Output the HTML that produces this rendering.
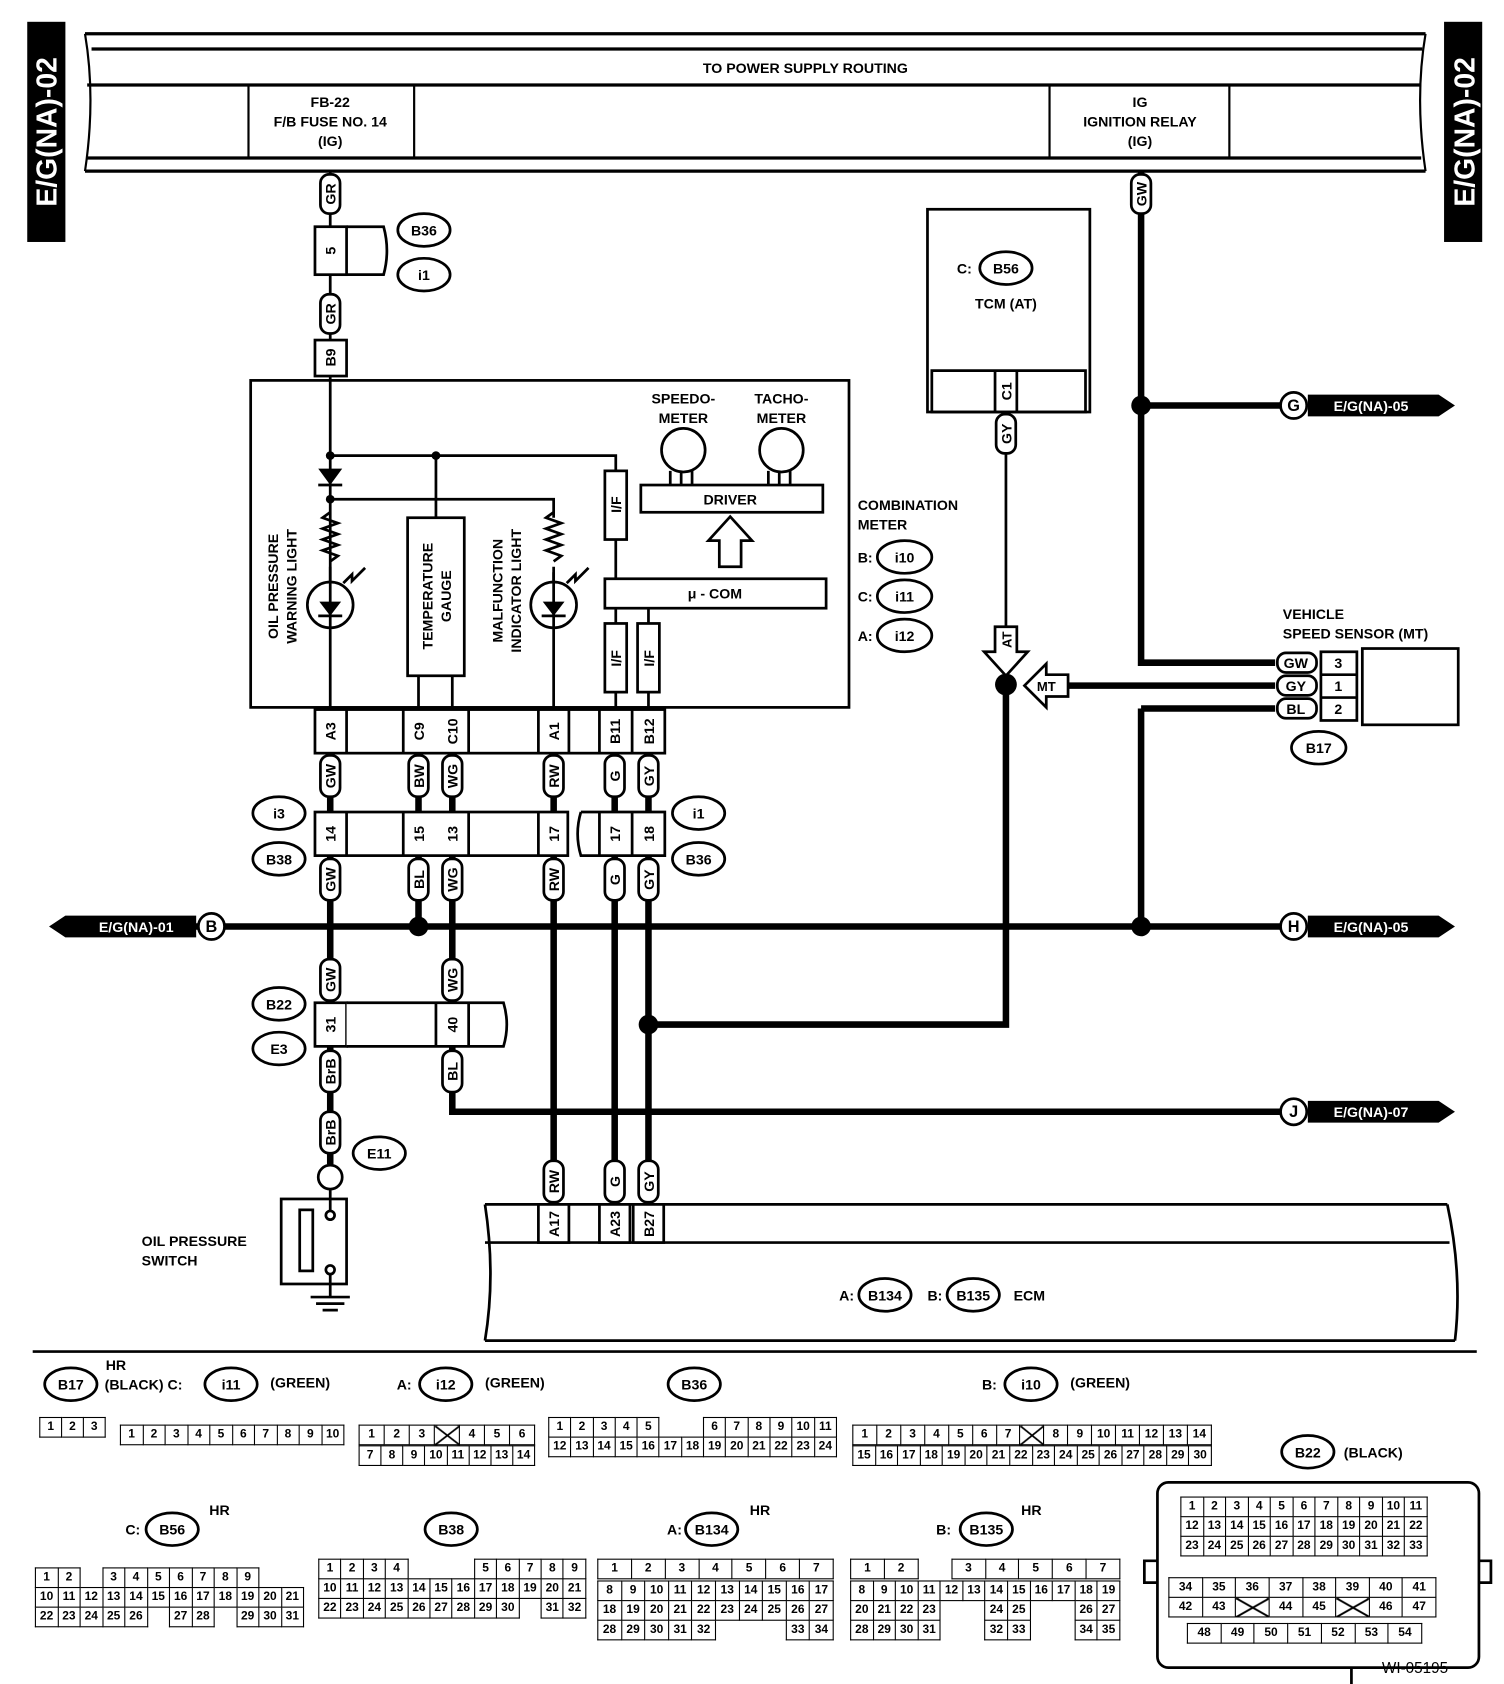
<!DOCTYPE html>
<html><head><meta charset="utf-8"><style>
html,body{margin:0;padding:0;background:#fff;width:1504px;height:1684px;overflow:hidden}
#w{position:absolute;left:0;top:0;width:1380px;height:1545px;transform:scale(1.08986,1.08996);transform-origin:0 0}
svg{position:absolute;left:0;top:0}
svg text{font-family:"Liberation Sans",sans-serif;font-weight:bold;font-size:13px;fill:#000}
.t{position:absolute;border-collapse:collapse;table-layout:fixed;font:bold 11px "Liberation Sans Narrow","Liberation Sans",sans-serif}
.t td{border:1.5px solid #000;text-align:center;padding:0;height:17px;line-height:17px}
.t td.n{border:none}
.t td.x{background:linear-gradient(to top right,transparent 46%,#000 48%,#000 52%,transparent 54%),linear-gradient(to top left,transparent 46%,#000 48%,#000 52%,transparent 54%)}
</style></head><body><div id="w">
<svg width="1380" height="1545" viewBox="0 0 1380 1545">
<!-- thick wires -->
<g stroke="#000" fill="none" stroke-width="6">
<path d="M1047 157 V608 H1170 M1047 372 H1175 M1047 650 H1170 M1047 650 V850"/>
<path d="M980 629 H1170"/>
<path d="M923 628 V940 H595"/>
<path d="M60 850 H1175"/>
<path d="M303 691 V920 M384 691 V850 M415 691 V920 M508 691 V1105 M564 691 V1105 M595 691 V1105 M303 960 V1068 M415 960 V1020 H1175"/>
</g>
<g stroke="#000" fill="none" stroke-width="3">
<path d="M78 31 H1308 M84 45 H1305 M80 78 H1304 M80 145 H1304 M78 157 H1308"/>
<path d="M78 31 Q88 90 78 157 M1308 31 Q1298 90 1308 157" stroke-width="2"/>
<path d="M228 78 V145 M380 78 V145 M963 78 V145 M1128 78 V145" stroke-width="2"/>
</g>
<rect x="25" y="20" width="35" height="202" fill="#000"/>
<rect x="1325" y="20" width="35" height="202" fill="#000"/>
<text transform="translate(52,121) rotate(-90)" text-anchor="middle" style="fill:#fff;font-size:26px">E/G(NA)-02</text>
<text transform="translate(1353,121) rotate(-90)" text-anchor="middle" style="fill:#fff;font-size:26px">E/G(NA)-02</text>
<text x="739" y="67" text-anchor="middle">TO POWER SUPPLY ROUTING</text>
<text x="303" y="98" text-anchor="middle">FB-22</text><text x="303" y="116" text-anchor="middle">F/B FUSE NO. 14</text><text x="303" y="134" text-anchor="middle">(IG)</text>
<text x="1046" y="98" text-anchor="middle">IG</text><text x="1046" y="116" text-anchor="middle">IGNITION RELAY</text><text x="1046" y="134" text-anchor="middle">(IG)</text>

<g stroke="#000" fill="none" stroke-width="2.5">
<path d="M303 157 V650"/>
<path d="M303 418 H565 V432 M565 495 V531 M400 418 V475 M303 458 H508 V475 M565 558 V572 M595 558 V572 M565 635 V650 M595 635 V650 M384 620 V650 M415 620 V650 M508 525 V650"/>
<path d="M303 520 V533 M508 520 V533"/>
<rect x="230" y="349" width="549" height="300"/>
<rect x="374" y="475" width="52" height="145"/>
<rect x="555" y="432" width="20" height="63"/>
<rect x="555" y="572" width="20" height="63"/><rect x="585" y="572" width="20" height="63"/>
<rect x="555" y="531" width="203" height="27"/>
<rect x="588" y="445" width="167" height="25"/>
<circle cx="627" cy="413" r="20"/><circle cx="717" cy="413" r="20"/>
<path d="M615 432 V445 M625 432 V445 M635 432 V445 M705 432 V445 M715 432 V445 M725 432 V445"/>
<path d="M670 474 L690 496 H680 V520 H660 V496 H650 Z"/>
<circle cx="303" cy="555" r="21"/><circle cx="508" cy="555" r="21"/>
<path d="M303 470 l-7 5 l14 5 l-14 5 l14 5 l-14 5 l14 5 l-14 5 l14 5 l-7 5"/>
<path d="M508 470 l-7 5 l14 5 l-14 5 l14 5 l-14 5 l14 5 l-14 5 l14 5 l-7 5"/>
<path d="M292 445 H314 M292 565 H314 M497 565 H519" />
<path d="M315 535 l8 -8 v6 l12 -12 M520 535 l8 -8 v6 l12 -12"/>
<rect x="851" y="192" width="149" height="186"/>
<path d="M855 340 H996 V378 H855 Z M913 340 V378 M933 340 V378"/>
<path d="M923 378 V575"/>
<rect x="289" y="208" width="29" height="44" fill="#fff"/>
<path d="M318 208 H352 Q358 230 352 252 H318"/>
<rect x="289" y="312" width="29" height="33" fill="#fff"/>
<rect x="289" y="651" width="321" height="40" fill="#fff"/>
<path d="M318 651 V691 M370 651 V691 M430 651 V691 M494 651 V691 M522 651 V691 M550 651 V691 M580 651 V691"/>
<rect x="289" y="745" width="232" height="40" fill="#fff"/>
<path d="M318 745 V785 M370 745 V785 M430 745 V785 M494 745 V785"/>
<path d="M533 745 H610 V785 H533 Q527 765 533 745" fill="#fff"/>
<path d="M550 745 V785 M580 745 V785"/>
<rect x="289" y="920" width="29" height="40" fill="#fff"/>
<path d="M318 920 H462 Q468 940 462 960 H318" fill="#fff"/>
<path d="M400 920 V960 M430 920 V960"/>
<circle cx="303" cy="1080" r="11"/>
<rect x="258" y="1100" width="60" height="78"/>
<rect x="275" y="1110" width="12" height="56"/>
<circle cx="303" cy="1115" r="4"/><circle cx="303" cy="1165" r="4"/>
<path d="M303 1091 V1111 M303 1169 V1190 M285 1190 H321 M290 1196 H316 M296 1202 H310"/>
<path d="M445 1105 H1328 M445 1140 H1330 M445 1230 H1335 M445 1105 Q455 1170 445 1230 M1328 1105 Q1342 1170 1335 1230"/>
<rect x="494" y="1105" width="28" height="35" fill="#fff"/><rect x="550" y="1105" width="28" height="35" fill="#fff"/><rect x="581" y="1105" width="28" height="35" fill="#fff"/>
<rect x="1250" y="595" width="88" height="70"/>
<rect x="1212" y="598" width="33" height="63"/><path d="M1212 619 H1245 M1212 640 H1245"/>
<ellipse cx="389" cy="211" rx="24" ry="15"/><ellipse cx="389" cy="252" rx="24" ry="15"/>
<ellipse cx="923" cy="246" rx="24" ry="15"/>
<ellipse cx="830" cy="511" rx="25" ry="15"/><ellipse cx="830" cy="547" rx="25" ry="15"/><ellipse cx="830" cy="583" rx="25" ry="15"/>
<ellipse cx="256" cy="746" rx="24" ry="15"/><ellipse cx="256" cy="788" rx="24" ry="15"/>
<ellipse cx="641" cy="746" rx="24" ry="15"/><ellipse cx="641" cy="788" rx="24" ry="15"/>
<ellipse cx="256" cy="921" rx="24" ry="15"/><ellipse cx="256" cy="962" rx="24" ry="15"/>
<ellipse cx="348" cy="1058" rx="24" ry="15"/>
<ellipse cx="1210" cy="686" rx="25" ry="15"/>
<ellipse cx="812" cy="1188" rx="24" ry="15"/><ellipse cx="893" cy="1188" rx="24" ry="15"/>
<path d="M30 1240 H1355"/>
</g>
<g fill="#000">
<circle cx="303" cy="418" r="4"/><circle cx="303" cy="458" r="4"/><circle cx="400" cy="418" r="4"/>
<path d="M292 430 H314 L303 445 Z"/><path d="M293 552 H313 L303 565 Z"/><path d="M498 552 H518 L508 565 Z"/>
<circle cx="1047" cy="372" r="9"/><circle cx="1047" cy="850" r="9"/><circle cx="384" cy="850" r="9"/>
<circle cx="595" cy="940" r="9"/><circle cx="923" cy="628" r="10"/>
<path d="M1200 362 H1320 L1335 372 L1320 382 H1200 Z"/>
<path d="M1200 840 H1320 L1335 850 L1320 860 H1200 Z"/>
<path d="M1200 1010 H1320 L1335 1020 L1320 1030 H1200 Z"/>
<path d="M180 840 H60 L45 850 L60 860 H180 Z"/>
</g>
<g stroke="#000" stroke-width="2.5" fill="#fff">
<circle cx="1187" cy="372" r="12"/><circle cx="1187" cy="850" r="12"/><circle cx="1187" cy="1020" r="12"/><circle cx="194" cy="850" r="12"/>
<path d="M913 575 H933 V598 H943 L923 620 L903 598 H913 Z"/>
<path d="M980 619 V639 H960 V649 L940 629 L960 609 V619 Z"/>
<rect x="294" y="160" width="18" height="36" rx="8"/>
<rect x="294" y="270" width="18" height="36" rx="8"/>
<rect x="1038" y="160" width="18" height="36" rx="8"/>
<rect x="914" y="380" width="18" height="36" rx="8"/>
<rect x="294" y="693" width="18" height="38" rx="8"/><rect x="375" y="693" width="18" height="38" rx="8"/><rect x="406" y="693" width="18" height="38" rx="8"/><rect x="499" y="693" width="18" height="38" rx="8"/><rect x="555" y="693" width="18" height="38" rx="8"/><rect x="586" y="693" width="18" height="38" rx="8"/>
<rect x="294" y="788" width="18" height="38" rx="8"/><rect x="375" y="788" width="18" height="38" rx="8"/><rect x="406" y="788" width="18" height="38" rx="8"/><rect x="499" y="788" width="18" height="38" rx="8"/><rect x="555" y="788" width="18" height="38" rx="8"/><rect x="586" y="788" width="18" height="38" rx="8"/>
<rect x="294" y="880" width="18" height="38" rx="8"/><rect x="406" y="880" width="18" height="38" rx="8"/>
<rect x="294" y="964" width="18" height="38" rx="8"/><rect x="406" y="964" width="18" height="38" rx="8"/>
<rect x="294" y="1020" width="18" height="38" rx="8"/>
<rect x="499" y="1065" width="18" height="38" rx="8"/><rect x="555" y="1065" width="18" height="38" rx="8"/><rect x="586" y="1065" width="18" height="38" rx="8"/>
<rect x="1172" y="599" width="36" height="18" rx="8"/><rect x="1172" y="620" width="36" height="18" rx="8"/><rect x="1172" y="641" width="36" height="18" rx="8"/>
</g>
<g text-anchor="middle">
<text x="1187" y="377" style="font-size:15px">G</text><text x="1187" y="855" style="font-size:15px">H</text><text x="1187" y="1025" style="font-size:15px">J</text><text x="194" y="855" style="font-size:15px">B</text>
<text x="1258" y="377" style="fill:#fff">E/G(NA)-05</text><text x="1258" y="855" style="fill:#fff">E/G(NA)-05</text><text x="1258" y="1025" style="fill:#fff">E/G(NA)-07</text><text x="125" y="855" style="fill:#fff">E/G(NA)-01</text>
<text x="389" y="216">B36</text><text x="389" y="257">i1</text><text x="923" y="251">B56</text>
<text x="830" y="516">i10</text><text x="830" y="552">i11</text><text x="830" y="588">i12</text>
<text x="256" y="751">i3</text><text x="256" y="793">B38</text><text x="641" y="751">i1</text><text x="641" y="793">B36</text>
<text x="256" y="926">B22</text><text x="256" y="967">E3</text><text x="348" y="1063">E11</text><text x="1210" y="691">B17</text>
<text x="812" y="1193">B134</text><text x="893" y="1193">B135</text>
<text x="627" y="370">SPEEDO-</text><text x="627" y="388">METER</text><text x="717" y="370">TACHO-</text><text x="717" y="388">METER</text>
<text x="670" y="463">DRIVER</text><text x="656" y="549">μ - COM</text>
<text x="923" y="283">TCM (AT)</text>
<text x="1189" y="613">GW</text><text x="1189" y="634">GY</text><text x="1189" y="655">BL</text>
<text x="1228" y="613">3</text><text x="1228" y="634">1</text><text x="1228" y="655">2</text>
</g>
<g text-anchor="start">
<text x="878" y="251">C:</text>
<text x="787" y="468">COMBINATION</text><text x="787" y="486">METER</text>
<text x="787" y="516">B:</text><text x="787" y="552">C:</text><text x="787" y="588">A:</text>
<text x="1177" y="568">VEHICLE</text><text x="1177" y="586">SPEED SENSOR (MT)</text>
<text x="130" y="1143">OIL PRESSURE</text><text x="130" y="1161">SWITCH</text>
<text x="770" y="1193">A:</text><text x="851" y="1193">B:</text><text x="930" y="1193">ECM</text>
</g>
<g text-anchor="middle">
<text transform="translate(255,538) rotate(-90)">OIL PRESSURE</text><text transform="translate(272,538) rotate(-90)">WARNING LIGHT</text>
<text transform="translate(397,547) rotate(-90)">TEMPERATURE</text><text transform="translate(414,547) rotate(-90)">GAUGE</text>
<text transform="translate(461,542) rotate(-90)">MALFUNCTION</text><text transform="translate(478,542) rotate(-90)">INDICATOR LIGHT</text>
<text transform="translate(570,463) rotate(-90)">I/F</text><text transform="translate(570,604) rotate(-90)">I/F</text><text transform="translate(600,604) rotate(-90)">I/F</text>
<text transform="translate(928,587) rotate(-90)" style="font-size:12px">AT</text><text x="960" y="634" style="font-size:12px">MT</text>
<text transform="translate(308,178) rotate(-90)">GR</text><text transform="translate(308,288) rotate(-90)">GR</text>
<text transform="translate(1052,178) rotate(-90)">GW</text><text transform="translate(928,398) rotate(-90)">GY</text>
<text transform="translate(308,230) rotate(-90)">5</text><text transform="translate(308,328) rotate(-90)">B9</text>
<text transform="translate(928,359) rotate(-90)">C1</text>
<text transform="translate(308,671) rotate(-90)">A3</text><text transform="translate(389,671) rotate(-90)">C9</text><text transform="translate(420,671) rotate(-90)">C10</text><text transform="translate(513,671) rotate(-90)">A1</text><text transform="translate(569,671) rotate(-90)">B11</text><text transform="translate(600,671) rotate(-90)">B12</text>
<text transform="translate(308,712) rotate(-90)">GW</text><text transform="translate(389,712) rotate(-90)">BW</text><text transform="translate(420,712) rotate(-90)">WG</text><text transform="translate(513,712) rotate(-90)">RW</text><text transform="translate(569,712) rotate(-90)">G</text><text transform="translate(600,712) rotate(-90)">GY</text>
<text transform="translate(308,765) rotate(-90)">14</text><text transform="translate(389,765) rotate(-90)">15</text><text transform="translate(420,765) rotate(-90)">13</text><text transform="translate(513,765) rotate(-90)">17</text><text transform="translate(569,765) rotate(-90)">17</text><text transform="translate(600,765) rotate(-90)">18</text>
<text transform="translate(308,807) rotate(-90)">GW</text><text transform="translate(389,807) rotate(-90)">BL</text><text transform="translate(420,807) rotate(-90)">WG</text><text transform="translate(513,807) rotate(-90)">RW</text><text transform="translate(569,807) rotate(-90)">G</text><text transform="translate(600,807) rotate(-90)">GY</text>
<text transform="translate(308,899) rotate(-90)">GW</text><text transform="translate(420,899) rotate(-90)">WG</text>
<text transform="translate(308,940) rotate(-90)">31</text><text transform="translate(420,940) rotate(-90)">40</text>
<text transform="translate(308,983) rotate(-90)">BrB</text><text transform="translate(420,983) rotate(-90)">BL</text>
<text transform="translate(308,1039) rotate(-90)">BrB</text>
<text transform="translate(513,1084) rotate(-90)">RW</text><text transform="translate(569,1084) rotate(-90)">G</text><text transform="translate(600,1084) rotate(-90)">GY</text>
<text transform="translate(513,1123) rotate(-90)">A17</text><text transform="translate(569,1123) rotate(-90)">A23</text><text transform="translate(600,1123) rotate(-90)">B27</text>
</g>
<g stroke="#000" stroke-width="2.5" fill="none">
<ellipse cx="65" cy="1270" rx="24" ry="15"/><ellipse cx="212" cy="1270" rx="24" ry="15"/><ellipse cx="409" cy="1270" rx="24" ry="15"/><ellipse cx="637" cy="1270" rx="24" ry="15"/><ellipse cx="946" cy="1270" rx="24" ry="15"/><ellipse cx="1200" cy="1332" rx="24" ry="15"/>
<ellipse cx="158" cy="1403" rx="24" ry="15"/><ellipse cx="414" cy="1403" rx="24" ry="15"/><ellipse cx="653" cy="1403" rx="24" ry="15"/><ellipse cx="905" cy="1403" rx="24" ry="15"/>
<rect x="1062" y="1360" width="295" height="170" rx="10"/>
<path d="M1240 1530 V1545 M1062 1432 H1050 V1452 H1062 M1357 1432 H1368 V1452 H1357"/>
</g>
<g text-anchor="middle">
<text x="65" y="1275">B17</text><text x="212" y="1275">i11</text><text x="409" y="1275">i12</text><text x="637" y="1275">B36</text><text x="946" y="1275">i10</text><text x="1200" y="1337">B22</text>
<text x="158" y="1408">B56</text><text x="414" y="1408">B38</text><text x="653" y="1408">B134</text><text x="905" y="1408">B135</text>
</g>
<g>
<text x="97" y="1257">HR</text><text x="96" y="1275">(BLACK) C:</text><text x="248" y="1273">(GREEN)</text>
<text x="364" y="1275">A:</text><text x="445" y="1273">(GREEN)</text>
<text x="901" y="1275">B:</text><text x="982" y="1273">(GREEN)</text><text x="1233" y="1337">(BLACK)</text>
<text x="115" y="1408">C:</text><text x="192" y="1390">HR</text>
<text x="612" y="1408">A:</text><text x="688" y="1390">HR</text>
<text x="859" y="1408">B:</text><text x="937" y="1390">HR</text>
<text x="1268" y="1535" style="font-weight:normal;font-size:14px">WI-05195</text>
</g>
</svg>

<table class="t" style="left:36px;top:1300px;width:61px"><tr><td>1<td>2<td>3</tr></table>
<table class="t" style="left:110px;top:1307px;width:206px"><tr><td>1<td>2<td>3<td>4<td>5<td>6<td>7<td>8<td>9<td>10</tr></table>
<table class="t" style="left:329px;top:1307px;width:162px"><tr><td>1<td>2<td>3<td class="x"><td>4<td>5<td>6</tr></table>
<table class="t" style="left:329px;top:1326px;width:162px"><tr><td>7<td>8<td>9<td>10<td>11<td>12<td>13<td>14</tr></table>
<table class="t" style="left:503px;top:1300px;width:265px"><tr><td>1<td>2<td>3<td>4<td>5<td class="n"><td class="n"><td>6<td>7<td>8<td>9<td>10<td>11</tr><tr><td>12<td>13<td>14<td>15<td>16<td>17<td>18<td>19<td>20<td>21<td>22<td>23<td>24</tr></table>
<table class="t" style="left:782px;top:1307px;width:330px"><tr><td>1<td>2<td>3<td>4<td>5<td>6<td>7<td class="x"><td>8<td>9<td>10<td>11<td>12<td>13<td>14</tr></table>
<table class="t" style="left:782px;top:1326px;width:330px"><tr><td>15<td>16<td>17<td>18<td>19<td>20<td>21<td>22<td>23<td>24<td>25<td>26<td>27<td>28<td>29<td>30</tr></table>
<table class="t" style="left:1083px;top:1373px;width:227px"><tr><td>1<td>2<td>3<td>4<td>5<td>6<td>7<td>8<td>9<td>10<td>11</tr><tr><td>12<td>13<td>14<td>15<td>16<td>17<td>18<td>19<td>20<td>21<td>22</tr><tr><td>23<td>24<td>25<td>26<td>27<td>28<td>29<td>30<td>31<td>32<td>33</tr></table>
<table class="t" style="left:1072px;top:1447px;width:246px"><tr><td>34<td>35<td>36<td>37<td>38<td>39<td>40<td>41</tr><tr><td>42<td>43<td class="x"><td>44<td>45<td class="x"><td>46<td>47</tr></table>
<table class="t" style="left:1089px;top:1489px;width:216px"><tr><td>48<td>49<td>50<td>51<td>52<td>53<td>54</tr></table>
<table class="t" style="left:32px;top:1438px;width:247px"><tr><td>1<td>2<td class="n"><td>3<td>4<td>5<td>6<td>7<td>8<td>9<td class="n"></tr><tr><td>10<td>11<td>12<td>13<td>14<td>15<td>16<td>17<td>18<td>19<td>20<td>21</tr><tr><td>22<td>23<td>24<td>25<td>26<td class="n"><td>27<td>28<td class="n"><td>29<td>30<td>31</tr></table>
<table class="t" style="left:292px;top:1430px;width:246px"><tr><td>1<td>2<td>3<td>4<td class="n"><td class="n"><td class="n"><td>5<td>6<td>7<td>8<td>9</tr><tr><td>10<td>11<td>12<td>13<td>14<td>15<td>16<td>17<td>18<td>19<td>20<td>21</tr><tr><td>22<td>23<td>24<td>25<td>26<td>27<td>28<td>29<td>30<td class="n"><td>31<td>32</tr></table>
<table class="t" style="left:548px;top:1430px;width:217px"><tr><td>1<td>2<td>3<td>4<td>5<td>6<td>7</tr></table>
<table class="t" style="left:548px;top:1450px;width:217px"><tr><td>8<td>9<td>10<td>11<td>12<td>13<td>14<td>15<td>16<td>17</tr><tr><td>18<td>19<td>20<td>21<td>22<td>23<td>24<td>25<td>26<td>27</tr><tr><td>28<td>29<td>30<td>31<td>32<td class="n"><td class="n"><td class="n"><td>33<td>34</tr></table>
<table class="t" style="left:780px;top:1430px;width:248px"><tr><td>1<td>2<td class="n"><td>3<td>4<td>5<td>6<td>7</tr></table>
<table class="t" style="left:780px;top:1450px;width:248px"><tr><td>8<td>9<td>10<td>11<td>12<td>13<td>14<td>15<td>16<td>17<td>18<td>19</tr><tr><td>20<td>21<td>22<td>23<td class="n"><td class="n"><td>24<td>25<td class="n"><td class="n"><td>26<td>27</tr><tr><td>28<td>29<td>30<td>31<td class="n"><td class="n"><td>32<td>33<td class="n"><td class="n"><td>34<td>35</tr></table>
</div></body></html>
